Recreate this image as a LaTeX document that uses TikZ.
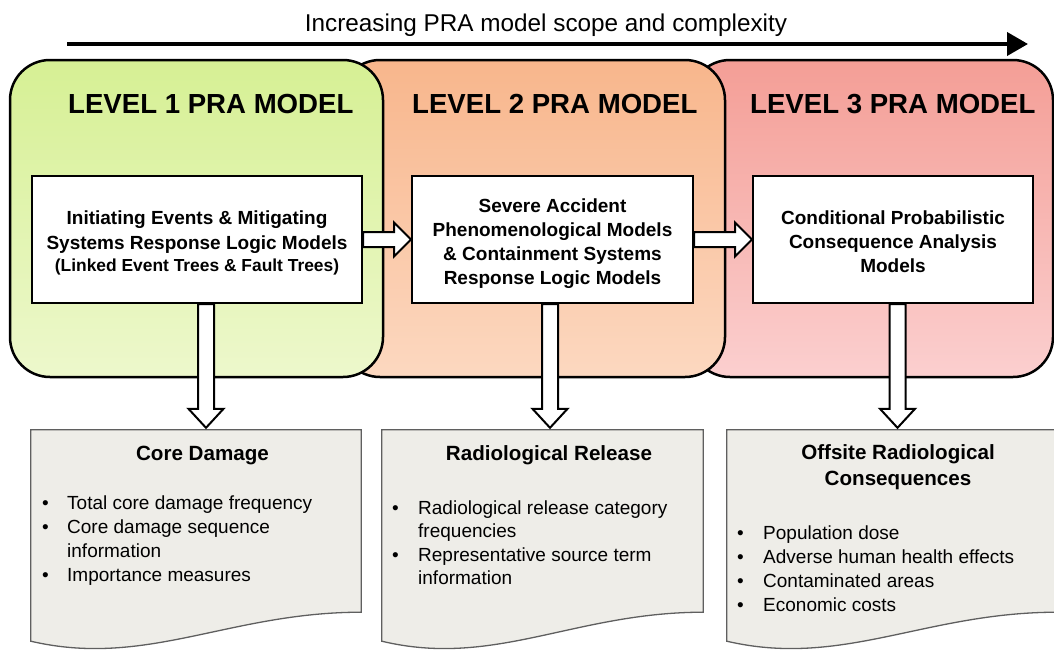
\documentclass[tikz,border=0pt]{standalone}
\usepackage{fontspec}
\setmainfont{Liberation Sans}
\usetikzlibrary{arrows.meta,calc}
\definecolor{lOneTop}{RGB}{214,240,148}
\definecolor{lOneBot}{RGB}{237,248,204}
\definecolor{lTwoTop}{RGB}{248,182,140}
\definecolor{lTwoBot}{RGB}{252,216,192}
\definecolor{lThreeTop}{RGB}{244,158,150}
\definecolor{lThreeBot}{RGB}{251,207,207}
\definecolor{docfill}{RGB}{238,237,232}
\definecolor{docedge}{RGB}{95,95,95}
\newcommand\bul{\makebox[25pt][l]{\textbullet}}
\newcommand\bulb{\makebox[26pt][l]{\textbullet}}
\newcommand\hfatarrow[2]{\draw[fat] let \p1=(#1.east), \p2=(#2.west) in
  (\x1,\y1+7.5pt) -- (\x2-17pt,\y1+7.5pt) -- (\x2-17pt,\y1+17pt) -- (\x2,\y1)
  -- (\x2-17pt,\y1-17pt) -- (\x2-17pt,\y1-7.5pt) -- (\x1,\y1-7.5pt) -- cycle;}
\newcommand\vfatarrow[3]{\draw[fat] let \p1=([xshift=#3]#1.south), \p2=(#2.north) in
  (\x1-8pt,\y1) -- (\x1-8pt,\y2+21pt) -- (\x1-17.5pt,\y2+21pt) -- (\x1,\y2+2pt)
  -- (\x1+17.5pt,\y2+21pt) -- (\x1+8pt,\y2+21pt) -- (\x1+8pt,\y1) -- cycle;}
\newcommand\docshape[1]{\draw[docline] (#1.north west) -- (#1.north east)
  -- ([yshift=29pt]#1.south east)
  .. controls ($(#1.south west)!0.6!(#1.south east)+(0pt,29pt)$)
  and ($(#1.south west)!0.35!(#1.south east)+(0pt,-27pt)$) .. (#1.south west) -- cycle;}
\begin{document}
\begin{tikzpicture}[x=1pt,y=-1pt,
  panel/.style={draw=black, line width=2.5pt, rounded corners=40pt, inner sep=0pt},
  heading/.style={font=\fontsize{27.6}{33}\selectfont\bfseries, inner sep=0pt},
  mbox/.style={draw=black, fill=white, line width=2pt, inner sep=0pt},
  mtext/.style={align=center, inner sep=0pt, font=\fontsize{19}{24}\selectfont\bfseries},
  fat/.style={draw=black, fill=white, line width=2pt, line join=miter},
  docnode/.style={draw=none, inner sep=0pt},
  docline/.style={draw=docedge, fill=docfill, line width=1.3pt},
  dtitle/.style={font=\fontsize{20.6}{26}\selectfont\bfseries, inner sep=0pt},
  bullets/.style={font=\fontsize{19}{24}\selectfont, inner sep=0pt}]
\useasboundingbox (0,0) rectangle (1054,651);

% title and scope arrow
\node[anchor=base, inner sep=0pt, font=\fontsize{24.3}{29}\selectfont] (title) at (546,31) {Increasing PRA model scope and complexity};
\coordinate (as) at (67,44);
\coordinate (ae) at (1028,44);
\draw[line width=4pt, -{Triangle[length=21pt,width=23pt]}] (as) -- (ae);

% panels
\node[panel, top color=lThreeTop, bottom color=lThreeBot, minimum width=363pt, minimum height=317pt] (p3) at (871.5,218.5) {};
\node[panel, top color=lTwoTop, bottom color=lTwoBot, minimum width=385pt, minimum height=317pt] (p2) at (532.5,218.5) {};
\node[panel, top color=lOneTop, bottom color=lOneBot, minimum width=373pt, minimum height=317pt] (p1) at (196.5,218.5) {};

\node[heading, anchor=base west] (h1) at (68,113) {LEVEL 1 PRA MODEL};
\node[heading, anchor=base west] (h2) at (412,113) {LEVEL 2 PRA MODEL};
\node[heading, anchor=base west] (h3) at (750,113) {LEVEL 3 PRA MODEL};

% model boxes
\node[mbox, minimum width=330pt, minimum height=127pt] (b1) at (197,239.5) {};
\node[mbox, minimum width=281pt, minimum height=127pt] (b2) at (552.5,239.5) {};
\node[mbox, minimum width=280pt, minimum height=127pt] (b3) at (893,239.5) {};
\node[mtext] (b1t) at ([yshift=-3pt]b1.center)
  {Initiating Events \& Mitigating\\[1pt] Systems Response Logic Models\\[-2pt]
   {\fontsize{17.4}{22}\selectfont (Linked Event Trees \& Fault Trees)}};
\node[mtext] (b2t) at ([yshift=-4pt]b2.center)
  {Severe Accident\\ Phenomenological Models\\ \& Containment Systems\\ Response Logic Models};
\node[mtext] (b3t) at ([yshift=-2pt]b3.center)
  {Conditional Probabilistic\\ Consequence Analysis\\ Models};

% result documents
\node[docnode, minimum width=330pt, minimum height=211pt] (d1) at (196,535.5) {};
\node[docnode, minimum width=321pt, minimum height=211pt] (d2) at (542.5,535.5) {};
\node[docnode, minimum width=330pt, minimum height=211pt] (d3) at (892,535.5) {};
\docshape{d1}
\docshape{d2}
\docshape{d3}

% block arrows
\hfatarrow{b1}{b2}
\hfatarrow{b2}{b3}
\vfatarrow{b1}{d1}{9pt}
\vfatarrow{b2}{d2}{-2.5pt}
\vfatarrow{b3}{d3}{4.5pt}

% document texts
\node[dtitle, anchor=base] (t1) at (202.5,460) {Core Damage};
\node[dtitle, anchor=base] (t2) at (549,460) {Radiological Release};
\node[dtitle, anchor=base] (t3) at (898,459)
  {\begin{tabular}[t]{@{}c@{}}Offsite Radiological\\ Consequences\end{tabular}};

\node[bullets, anchor=base west] (l1) at (42,509)
  {\begin{tabular}[t]{@{}l@{}l@{}}\bul & Total core damage frequency\\
   \bul & Core damage sequence\\ & information\\ \bul & Importance measures\end{tabular}};
\node[bullets, anchor=base west, font=\fontsize{19}{23.5}\selectfont] (l2) at (392,514)
  {\begin{tabular}[t]{@{}l@{}l@{}}\bulb & Radiological release category\\
   & frequencies\\ \bulb & Representative source term\\ & information\end{tabular}};
\node[bullets, anchor=base west] (l3) at (737,539)
  {\begin{tabular}[t]{@{}l@{}l@{}}\bulb & Population dose\\
   \bulb & Adverse human health effects\\ \bulb & Contaminated areas\\ \bulb & Economic costs\end{tabular}};
\end{tikzpicture}
\end{document}
